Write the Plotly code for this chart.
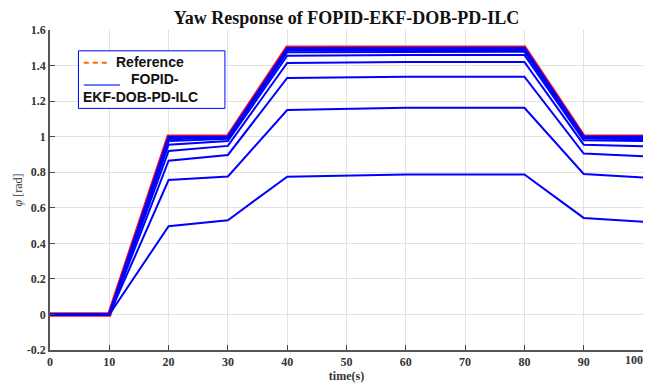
import plotly.graph_objects as go

# key times (s)
t_key = [0, 10, 20, 30, 40, 60, 80, 90, 100]

# reference trajectory
ref_vals = [0, 0, 1.0, 1.0, 1.5, 1.5, 1.5, 1.0, 1.0]

# ILC iterations
iter_1 = [0, 0, 0.496, 0.530, 0.775, 0.787, 0.787, 0.543, 0.522]
iter_2 = [0, 0, 0.756, 0.776, 1.150, 1.162, 1.162, 0.790, 0.770]
iter_3 = [0, 0, 0.865, 0.897, 1.330, 1.337, 1.337, 0.905, 0.890]
iter_4 = [0, 0, 0.920, 0.948, 1.415, 1.420, 1.420, 0.955, 0.946]
iter_5 = [0, 0, 0.955, 0.975, 1.455, 1.460, 1.460, 0.980, 0.975]
iter_6 = [0, 0, 0.975, 0.988, 1.475, 1.478, 1.478, 0.990, 0.986]
iter_7 = [0, 0, 0.985, 0.994, 1.485, 1.488, 1.488, 0.995, 0.993]
iter_8 = [0, 0, 0.992, 0.997, 1.492, 1.494, 1.494, 0.998, 0.997]
iter_9 = [0, 0, 0.996, 0.999, 1.496, 1.498, 1.498, 0.999, 0.999]
iter_10 = [0, 0, 0.999, 1.000, 1.499, 1.500, 1.500, 1.000, 1.000]
iterations = [iter_1, iter_2, iter_3, iter_4, iter_5, iter_6, iter_7, iter_8, iter_9, iter_10]

x_ticks = list(range(0, 101, 10))
x_tick_text = [str(v) for v in x_ticks[:-1]] + [""]
last_x_label = str(x_ticks[-1])
y_ticks = [-0.2, 0, 0.2, 0.4, 0.6, 0.8, 1.0, 1.2, 1.4, 1.6]
y_tick_text = ["-0.2", "0", "0.2", "0.4", "0.6", "0.8", "1", "1.2", "1.4", "1.6"]

fig = go.Figure()
fig.add_trace(go.Scatter(x=t_key, y=ref_vals, mode="lines",
                         line=dict(color="#ff1010", width=4.5), showlegend=False))
for vals in iterations:
    fig.add_trace(go.Scatter(x=t_key, y=vals, mode="lines",
                             line=dict(color="#0000ff", width=2), showlegend=False))

serif = "Liberation Serif"
tick_font = dict(family=serif, size=12, color="#333", weight="bold")
fig.update_layout(
    width=646, height=387,
    margin=dict(l=50, r=3, t=30, b=37),
    paper_bgcolor="white", plot_bgcolor="white",
    title=dict(text="<b>Yaw Response of FOPID-EKF-DOB-PD-ILC</b>",
               x=(50 + 643) / 2 / 646, xanchor="center", y=0.955, yanchor="middle",
               font=dict(family=serif, size=18, color="#111")),
    showlegend=False,
)
fig.update_xaxes(range=[0, 100], tickvals=x_ticks, ticktext=x_tick_text,
                 ticks="inside", ticklen=5,
                 tickcolor="#444", showline=True, linecolor="#555", linewidth=1.5,
                 showgrid=True, gridcolor="#e2e2e2", zeroline=False,
                 automargin=False, tickfont=tick_font,
                 title=dict(text="<b>time(s)</b>", standoff=2,
                            font=dict(family=serif, size=12, color="#333")))
fig.update_yaxes(range=[-0.2, 1.6], tickvals=y_ticks, ticktext=y_tick_text,
                 ticks="inside", ticklen=5, tickcolor="#444",
                 showline=True, linecolor="#555", linewidth=1.5,
                 showgrid=True, gridcolor="#e2e2e2", zeroline=False,
                 automargin=False, tickfont=tick_font,
                 title=dict(text="<i>φ</i> [rad]", standoff=2,
                            font=dict(family=serif, size=12, color="#333")))

# last x tick label kept inside the page
fig.add_annotation(xref="paper", yref="paper", x=1.0, y=0, xanchor="right", yanchor="top",
                   xshift=2, yshift=-1, text="<b>%s</b>" % last_x_label, showarrow=False,
                   font=dict(family=serif, size=12, color="#333"))

# custom legend box
fig.add_shape(type="rect", xref="paper", yref="paper", x0=0.048, x1=0.295, y0=0.755, y1=0.935,
              line=dict(color="#0000ff", width=1), fillcolor="white", layer="above")
fig.add_shape(type="line", xref="paper", yref="paper", x0=0.057, x1=0.100, y0=0.898, y1=0.898,
              line=dict(color="#ff6a00", width=2, dash="5px,4px"), layer="above")
fig.add_shape(type="line", xref="paper", yref="paper", x0=0.057, x1=0.118, y0=0.828, y1=0.828,
              line=dict(color="#3355ff", width=1.5), layer="above")
lf = dict(family="Liberation Sans", size=14, color="#111")
fig.add_annotation(xref="paper", yref="paper", x=0.108, y=0.900, xanchor="left", yanchor="middle",
                   text="<b>Reference</b>", showarrow=False, font=lf)
fig.add_annotation(xref="paper", yref="paper", x=0.133, y=0.847, xanchor="left", yanchor="middle",
                   text="<b>FOPID-</b>", showarrow=False, font=lf)
fig.add_annotation(xref="paper", yref="paper", x=0.053, y=0.790, xanchor="left", yanchor="middle",
                   text="<b>EKF-DOB-PD-ILC</b>", showarrow=False, font=lf)

fig.write_html("out.html")
